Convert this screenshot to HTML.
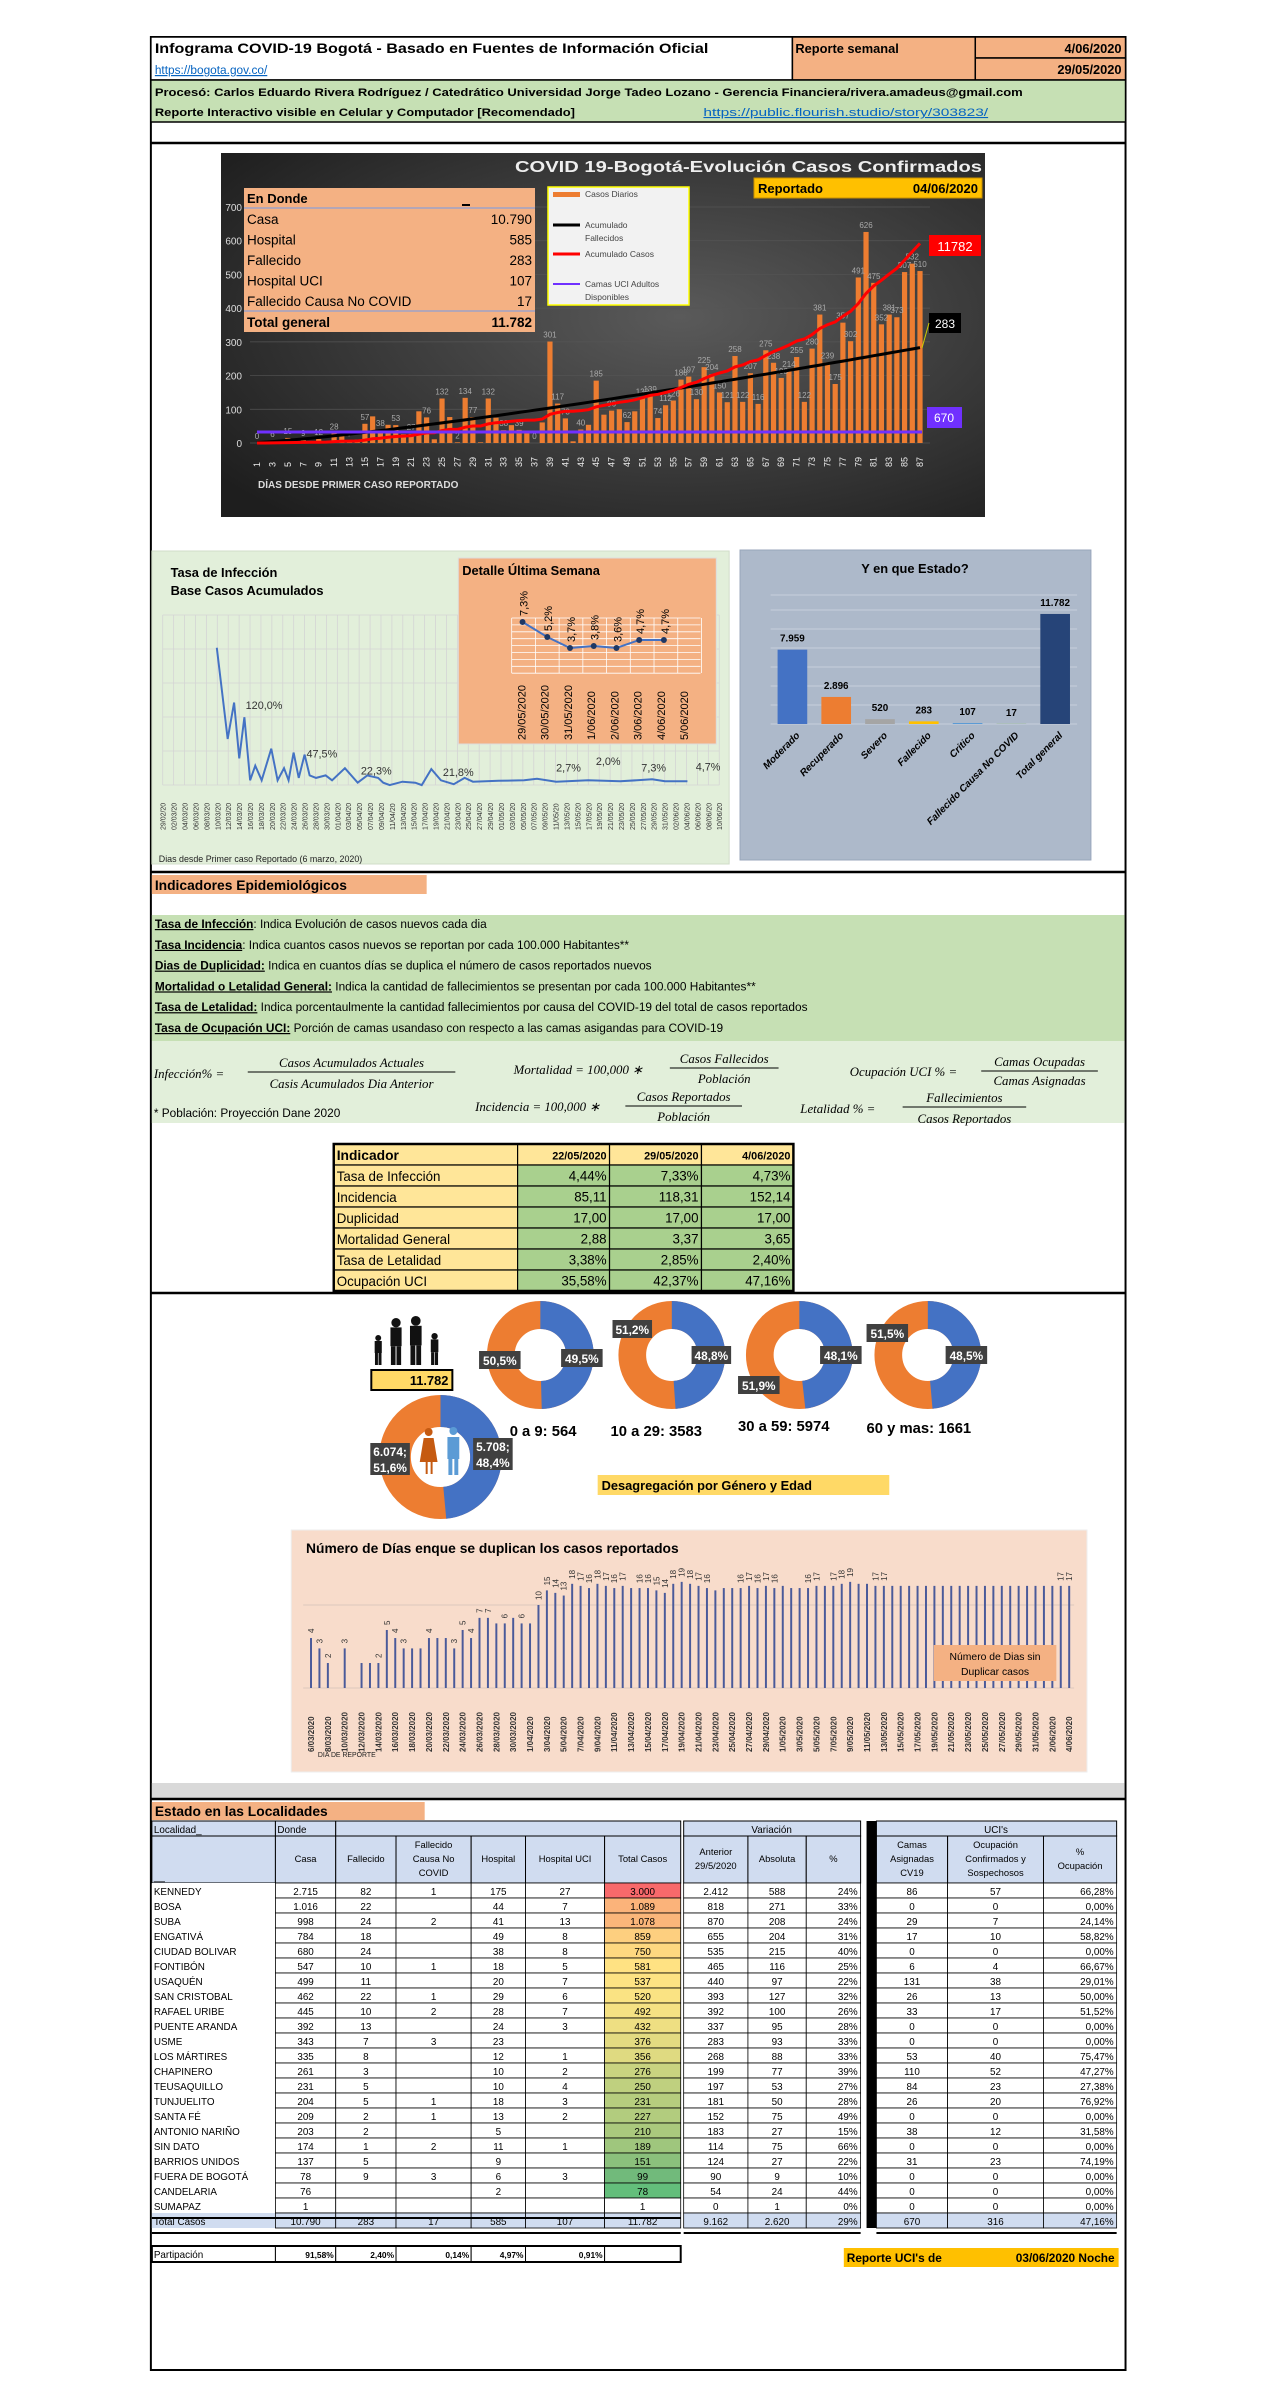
<!DOCTYPE html>
<html><head><meta charset="utf-8">
<style>
html,body{margin:0;padding:0;background:#fff;}
svg{display:block;}
</style></head>
<body>
<svg id="s" xmlns="http://www.w3.org/2000/svg" width="1275" height="2400" viewBox="0 0 1275 2400">
<defs>
<radialGradient id="dg" cx="0.6" cy="0.45" r="0.75">
<stop offset="0" stop-color="#5a5a5a"/><stop offset="1" stop-color="#1e1e1e"/>
</radialGradient>
</defs>
<g id="g" transform="translate(140,0) scale(0.9885,1) translate(-140,0)"></g>
</svg>
<script>
const S=document.getElementById('s');
const G=document.getElementById('g');
let P=G;
const NS='http://www.w3.org/2000/svg';
function el(tag,a,txt,parent){const e=document.createElementNS(NS,tag);for(const k in a){if(a[k]!==null&&a[k]!==undefined)e.setAttribute(k,a[k]);}if(txt!=null)e.textContent=txt;(parent||P).appendChild(e);return e;}
function R(x,y,w,h,f,s,sw){return el('rect',{x:x,y:y,width:w,height:h,fill:f||'none',stroke:s||'none','stroke-width':sw||1});}
function L(x1,y1,x2,y2,c,w){return el('line',{x1:x1,y1:y1,x2:x2,y2:y2,stroke:c||'#000','stroke-width':w||1});}
function T(x,y,t,sz,o){o=o||{};return el('text',{x:x,y:y,'font-size':sz,'font-family':o.f||'"Liberation Sans", Arial, sans-serif',fill:o.c||'#000','font-weight':o.b?'bold':null,'font-style':o.i?'italic':null,'text-anchor':o.a||'start','text-decoration':o.u?'underline':null,transform:o.r!==undefined?`rotate(${o.r} ${x} ${y})`:null,'textLength':o.tl||null,'lengthAdjust':o.tl?'spacingAndGlyphs':null},t);}

/* ---------- page frame & header ---------- */
R(151,37,986,2333,'#fff','#000',2);
R(151,37,649,43,'#fff','#000',1.5);
T(155,53,'Infograma COVID-19 Bogotá - Basado en Fuentes de Información Oficial',14,{b:1,tl:560});
T(155,74,'https://bogota.gov.co/',12,{c:'#0563c1',u:1});
R(800,37,185,43,'#f4b183','#000',1.5);
T(803,53,'Reporte semanal',13,{b:1});
R(985,37,152,21,'#f4b183','#000',1.5);
R(985,58,152,22,'#f4b183','#000',1.5);
T(1133,53,'4/06/2020',13,{b:1,a:'end'});
T(1133,74,'29/05/2020',13,{b:1,a:'end'});
R(151,80,986,42,'#c6e0b4','#000',1.5);
T(155,96,'Procesó: Carlos Eduardo Rivera Rodríguez / Catedrático Universidad Jorge Tadeo Lozano - Gerencia Financiera/rivera.amadeus@gmail.com',11,{b:1,tl:878});
T(155,116,'Reporte Interactivo visible en Celular y Computador [Recomendado]',11,{b:1,tl:425});
T(710,116,'https://public.flourish.studio/story/303823/',11,{c:'#0563c1',u:1,tl:288});
L(151,143,1137,143,'#000',2.5);

/* ---------- dark chart (unscaled) ---------- */
P=S;
R(221,153,764,364,'url(#dg)');
T(982,172,'COVID 19-Bogotá-Evolución Casos Confirmados',16,{b:1,c:'#eee',a:'end',tl:467});
R(754,178,228,20,'#ffc000','#c89000',1);
T(758,193,'Reportado',13,{b:1});
T(978,193,'04/06/2020',13,{b:1,a:'end'});
const y0=443,ys=236/700;
for(let v=0;v<=700;v+=100){const y=y0-v*ys;L(250,y,930,y,'#555',0.7);T(242,y+4,String(v),10,{c:'#ddd',a:'end'});}
const daily=[0,2,6,4,15,2,9,3,12,6,28,22,7,10,57,79,38,54,53,26,27,94,76,11,132,77,2,134,77,2,132,75,38,53,39,29,0,61,301,117,73,5,40,54,185,84,96,100,62,94,132,139,74,112,126,188,197,130,225,204,150,121,258,122,207,116,275,238,193,214,255,122,280,381,239,175,357,302,491,626,475,352,381,373,507,532,510];
const dx0=257,dsp=(920-257)/86;
daily.forEach((v,i)=>{const x=dx0+i*dsp;const h=v*ys;R(x-2.6,y0-h,5.2,h,'#ed7d31');});
daily.forEach((v,i)=>{if(i%2==0||v>100){const x=dx0+i*dsp;T(x,y0-v*ys-4,String(v),8,{c:'#aaa',a:'middle'});}});
for(let d=1;d<=87;d+=2){const x=dx0+(d-1)*dsp+3;T(x,467,String(d),9,{c:'#eee',r:-90});}
T(258,488,'DÍAS DESDE PRIMER CASO REPORTADO',10,{b:1,c:'#ddd'});
let cum=0,tot=daily.reduce((a,b)=>a+b,0);let pr='',pb='';
daily.forEach((v,i)=>{cum+=v;const x=dx0+i*dsp;pr+=(i?'L':'M')+x.toFixed(1)+' '+(y0-cum/tot*592*ys).toFixed(1);const dv=283*Math.pow((i+1)/daily.length,1.25);pb+=(i?'L':'M')+x.toFixed(1)+' '+(y0-dv*ys).toFixed(1);});
el('path',{d:pb,fill:'none',stroke:'#000','stroke-width':3});
el('path',{d:pr,fill:'none',stroke:'#f00','stroke-width':3});
L(257,432,922,432,'#7030ff',3);
R(929,235,52,21,'#f00');T(955,251,'11782',13,{c:'#fff',a:'middle'});
R(929,313,32,20,'#000');T(945,328,'283',12,{c:'#fff',a:'middle'});
L(922,348,929,323,'#cc0',1);
R(927,407,35,21,'#7030ff');T(944,422,'670',12,{c:'#fff',a:'middle'});
R(244,188,291,144,'#f4b183');
T(247,203,'En Donde',13,{b:1});L(462,205,470,205,'#000',2);
L(244,208,535,208,'#9fa3c8',1.5);L(244,311,535,311,'#9fa3c8',1.5);
[['Casa','10.790'],['Hospital','585'],['Fallecido','283'],['Hospital UCI','107'],['Fallecido Causa No COVID','17']].forEach((r,i)=>{const y=224+i*20.5;T(247,y,r[0],13.5);T(532,y,r[1],13.5,{a:'end'});});
T(247,327,'Total general',13.5,{b:1});T(532,327,'11.782',13.5,{b:1,a:'end'});
R(548,187,141,118,'#f2f2f2','#ffff00',1.5);
R(553,192,27,5,'#ed7d31');T(585,197,'Casos Diarios',8.5,{c:'#444'});
L(553,225,580,225,'#000',3);T(585,228,'Acumulado',8.5,{c:'#444'});T(585,241,'Fallecidos',8.5,{c:'#444'});
L(553,254,580,254,'#f00',3);T(585,257,'Acumulado Casos',8.5,{c:'#444'});
L(553,284,580,284,'#7030ff',2);T(585,287,'Camas UCI Adultos',8.5,{c:'#444'});T(585,300,'Disponibles',8.5,{c:'#444'});
P=G;

/* ---------- infection rate panel ---------- */
R(152,551,584,313,'#e2efda','#d0dcc8',1);
T(171,577,'Tasa de Infección',13,{b:1});
T(171,595,'Base Casos Acumulados',13,{b:1});
for(let i=0;i<52;i++){const x=163+i*(563/51);L(x,615,x,785,'#d4d4d4',0.8);
 const dd=new Date(2020,1,29+2*i);const s=('0'+dd.getDate()).slice(-2)+'/'+('0'+(dd.getMonth()+1)).slice(-2)+'/20';T(x+3,830,s,7,{c:'#333',r:-90});}
[615,649,683,717,751,785].forEach(y=>L(163,y,726,y,'#d4d4d4',0.8));
const lp=[[120,222],[137,410],[147,335],[155,450],[163,365],[172,495],[180,465],[190,495],[205,430],[215,495],[225,470],[232,495],[240,438],[248,490],[257,442],[265,485],[275,490],[290,485],[300,495],[320,470],[340,500],[355,485],[372,490],[380,500],[390,505],[410,498],[430,500],[440,505],[455,472],[470,495],[490,503],[507,490],[520,498],[560,496],[600,495],[620,492],[650,498],[700,495],[750,497],[800,493],[820,497],[855,497]];
el('path',{d:lp.map((p,i)=>(i?'L':'M')+(140+p[0]/1.544).toFixed(1)+' '+(540+p[1]/2.06).toFixed(1)).join(''),fill:'none',stroke:'#4472c4','stroke-width':2});
[['120,0%',165,338],['47,5%',260,438],['22,3%',345,473],['21,8%',473,476],['2,7%',650,467],['2,0%',712,453],['7,3%',783,467],['4,7%',868,465]].forEach(a=>T(140+a[1]/1.544,540+a[2]/2.06+5,a[0],11,{c:'#333'}));
T(159,862,'Dias desde Primer caso Reportado (6 marzo, 2020)',9,{c:'#222'});
R(462,558,261,186,'#f4b183','#ddd',1);
T(466,575,'Detalle Última Semana',13,{b:1});
for(let i=0;i<=8;i++){const x=516+i*24;L(x,618,x,673,'#fff',0.8);}
for(let j=0;j<=8;j++){const y=618+j*6.9;L(516,y,707,y,'#fff',0.8);}
const ip=[[527,622],[552,637],[575,648],[599,646],[622,648],[645,640],[670,640]];
el('path',{d:ip.map((p,i)=>(i?'L':'M')+p[0]+' '+p[1]).join(''),fill:'none',stroke:'#4472c4','stroke-width':2});
const iv=['7,3%','5,2%','3,7%','3,8%','3,6%','4,7%','4,7%'];
ip.forEach((p,i)=>{el('circle',{cx:p[0],cy:p[1],r:3,fill:'#1f3864'});T(p[0]+5,p[1]-6,iv[i],11,{c:'#000',r:-90});});
['29/05/2020','30/05/2020','31/05/2020','1/06/2020','2/06/2020','3/06/2020','4/06/2020','5/06/2020'].forEach((d,i)=>T(530+i*23.5,740,d,11,{r:-90,a:'start'}));

/* ---------- estado panel ---------- */
R(747,550,355,310,'#adb9ca','#98a6bb',1);
T(924,573,'Y en que Estado?',13,{b:1,a:'middle'});
for(let j=0;j<7;j++){const y=724-j*19;L(778,y,1088,y,'#c8d0dc',1);}
L(778,595,1088,595,'#c8d0dc',1);
const eb=[['Moderado',7959,'#4472c4'],['Recuperado',2896,'#ed7d31'],['Severo',520,'#a5a5a5'],['Fallecido',283,'#ffc000'],['Critico',107,'#5b9bd5'],['Fallecido Causa No COVID',17,'#70ad47'],['Total general',11782,'#264478']];
const vl=['7.959','2.896','520','283','107','17','11.782'];
eb.forEach((b,i)=>{const cx=800+i*44.3;const h=b[1]*0.00934;R(cx-15,724-h,30,h,b[2]);T(cx,724-h-8,vl[i],10,{b:1,a:'middle'});T(cx+8,736,b[0],10,{b:1,i:1,a:'end',r:-45});});

L(151,872,1137,872,'#000',2.5);

/* ---------- indicadores ---------- */
R(152,875,278,19,'#f4b183');
T(155,890,'Indicadores Epidemiológicos',14,{b:1});
R(152,915,984,126,'#c6e0b4');
R(152,1041,984,82,'#e2efda');
const defs=[['Tasa de Infección',': Indica Evolución de casos nuevos cada dia'],['Tasa Incidencia',': Indica cuantos casos nuevos se reportan por cada 100.000 Habitantes**'],['Dias de Duplicidad:',' Indica en cuantos días se duplica el número de casos reportados nuevos'],['Mortalidad o Letalidad General:',' Indica la cantidad de fallecimientos se presentan por cada 100.000 Habitantes**'],['Tasa de Letalidad:',' Indica porcentaulmente la cantidad fallecimientos por causa del COVID-19 del total de casos reportados'],['Tasa de Ocupación UCI:',' Porción de camas usandaso con respecto a las camas asigandas para COVID-19']];
defs.forEach((d,i)=>{const t=el('text',{x:155,y:928+i*20.8,'font-size':12,'font-family':'"Liberation Sans", Arial, sans-serif'});el('tspan',{'font-weight':'bold','text-decoration':'underline'},d[0],t);el('tspan',{},d[1],t);});
const FS='"Liberation Serif", serif';
function frac(cx,ny,dy,n,d,w){T(cx,ny,n,13,{i:1,f:FS,a:'middle'});L(cx-w/2,ny+5,cx+w/2,ny+5,'#000',1);T(cx,dy,d,13,{i:1,f:FS,a:'middle'});}
T(154,1078,'Infección% =',13,{i:1,f:FS});frac(354,1067,1088,'Casos Acumulados Actuales','Casis  Acumulados Dia Anterior',210);
T(518,1074,'Mortalidad = 100,000 ∗',13,{i:1,f:FS});frac(731,1063,1083,'Casos Fallecidos','Población',110);
T(858,1076,'Ocupación UCI % =',13,{i:1,f:FS});frac(1050,1066,1085,'Camas Ocupadas','Camas Asignadas',118);
T(154,1117,'* Población: Proyección Dane 2020',12,{});
T(479,1111,'Incidencia = 100,000 ∗',13,{i:1,f:FS});frac(690,1101,1121,'Casos Reportados','Población',118);
T(808,1113,'Letalidad % =',13,{i:1,f:FS});frac(974,1102,1123,'Fallecimientos','Casos Reportados',125);
const ic=[336,522,615,708,801];
const ir=[['Indicador','22/05/2020','29/05/2020','4/06/2020'],['Tasa de Infección','4,44%','7,33%','4,73%'],['Incidencia','85,11','118,31','152,14'],['Duplicidad','17,00','17,00','17,00'],['Mortalidad General','2,88','3,37','3,65'],['Tasa de Letalidad','3,38%','2,85%','2,40%'],['Ocupación UCI','35,58%','42,37%','47,16%']];
ir.forEach((r,j)=>{const y=1144+j*21;for(let c=0;c<4;c++){const f=(j==0||c==0)?'#ffe699':'#a9d08e';R(ic[c],y,ic[c+1]-ic[c],21,f,'#000',1.2);
 if(c==0)T(ic[0]+3,y+16,r[0],j==0?14:13.5,{b:j==0});else T(ic[c+1]-3,y+15.5,r[c],j==0?11:13.5,{b:j==0,a:'end'});}});
R(336,1144,465,147,'none','#000',2.5);

L(151,1293,1137,1293,'#000',2.5);

/* ---------- donuts ---------- */
function donut(cx,cy,ro,ri,fb){const r=(ro+ri)/2,w=ro-ri,c=2*Math.PI*r;el('circle',{cx:cx,cy:cy,r:r,fill:'none',stroke:'#ed7d31','stroke-width':w});el('circle',{cx:cx,cy:cy,r:r,fill:'none',stroke:'#4472c4','stroke-width':w,'stroke-dasharray':(c*fb).toFixed(1)+' '+c.toFixed(1),transform:`rotate(-90 ${cx} ${cy})`});}
function lab(x,y,w,h,lines){R(x,y,w,h,'#404040');lines.forEach((t,i)=>T(x+w/2,y+h/2+5-(lines.length-1)*8+i*16,t,12,{c:'#fff',a:'middle',b:1}));}
donut(545,1355,54,26,0.495);donut(678,1355,54,26,0.488);donut(807,1355,54,26,0.481);donut(937,1355,54,26,0.485);
lab(483,1351,42,18,['50,5%']);lab(566,1349,42,18,['49,5%']);
lab(618,1320,40,18,['51,2%']);lab(698,1346,40,18,['48,8%']);
lab(745,1376,42,18,['51,9%']);lab(828,1346,42,18,['48,1%']);
lab(875,1324,42,18,['51,5%']);lab(955,1346,42,18,['48,5%']);
T(514,1436,'0 a 9: 564',15,{b:1});T(616,1436,'10 a 29: 3583',15,{b:1});T(745,1431,'30 a 59: 5974',15,{b:1});T(875,1433,'60 y mas: 1661',15,{b:1});
donut(444,1457,62,30,0.484);
el('circle',{cx:432,cy:1432,r:4,fill:'#c55a11'});el('path',{d:'M427 1438 L437 1438 L441 1462 L423 1462 Z',fill:'#c55a11'});R(429,1462,2,12,'#c55a11');R(434,1462,2,12,'#c55a11');
el('circle',{cx:457,cy:1431,r:4,fill:'#5b9bd5'});R(451,1437,12,22,'#5b9bd5');R(452,1459,4,16,'#5b9bd5');R(458,1459,4,16,'#5b9bd5');
lab(373,1443,40,32,['6.074;','51,6%']);lab(477,1438,40,32,['5.708;','48,4%']);
function person(x,top,h){const s=h/50;el('circle',{cx:x,cy:top+5*s,r:5*s,fill:'#111'});R(x-6*s,top+10*s,12*s,20*s,'#111');R(x-5.5*s,top+30*s,5*s,20*s,'#111');R(x+0.5*s,top+30*s,5*s,20*s,'#111');}
person(381,1335,30);person(399,1318,47);person(419,1316,49);person(438,1333,32);
R(374,1370,82,20,'#ffd966','#000',2);T(452,1385,'11.782',13,{b:1,a:'end'});
R(603,1475,295,20,'#ffd966');T(607,1490,'Desagregación por Género y Edad',13,{b:1});

/* ---------- doubling chart ---------- */
R(293,1530,805,242,'#f8dccb','#eee',1);
T(308,1553,'Número de Días enque se duplican los casos reportados',14,{b:1});
const dup=[4,3,2,1,3,1,2,2,2,5,4,3,3,3,4,4,4,3,5,4,7,7,6,6,7,6,6,10,15,14,13,18,17,16,18,17,16,17,16,16,16,15,14,18,19,18,17,16,15,16,16,16,17,16,17,16,17,16,16,16,17,17,17,18,19,18,18,17,17,17,17,17,17,17,17,17,17,17,17,17,17,17,17,17,17,17,17,17,17,17,17];
const bx0=313,bsp=(1080-313)/(dup.length-1),by0=1688;
L(305,by0-83,1085,by0-83,'#dcc9bd',1);L(305,by0,1085,by0,'#dcc9bd',1);
const shown=new Set([0,1,2,4,8,9,10,11,14,17,18,19,20,21,23,25,27,28,29,30,31,32,33,34,35,36,37,39,40,41,42,43,44,45,46,47,51,52,53,54,55,59,60,62,63,64,67,68,89,90]);
dup.forEach((v,i)=>{const x=bx0+i*bsp;const h=83*Math.log10(v);R(x-1,by0-h,2,h,'#4a5a9a');if(shown.has(i))T(x+3,by0-h-5,String(v),8,{c:'#333',r:-90});});
for(let i=0;i<dup.length;i+=2){const x=bx0+i*bsp+3;const dd=new Date(2020,2,6+i);T(x,1752,dd.getDate()+'/'+('0'+(dd.getMonth()+1)).slice(-2)+'/2020',8,{b:1,c:'#333',r:-90});}
T(320,1757,'DIA DE REPORTE',7,{c:'#222'});
R(943,1645,124,36,'#f4b183');T(1005,1660,'Número de Dias sin',10.5,{a:'middle'});T(1005,1675,'Duplicar    casos',10.5,{a:'middle'});

R(152,1783,984,15,'#d9d9d9');L(151,1799,1137,1799,'#000',2.5);

/* ---------- localidades table ---------- */
R(152,1802,276,18,'#f4b183');T(155,1816,'Estado en las Localidades',14,{b:1});
const cx=[152,277,338,399,475,530,610,687];const vx=[690,755,814,869];const ux=[885,957,1054,1128];
const HB='#d0dcf0';
R(152,1821,125,15,HB,'#000',1);T(154,1833,'Localidad_',10);
R(277,1821,61,15,HB,'#000',1);T(279,1833,'Donde',10);
R(338,1821,349,15,HB,'#000',1);
R(690,1821,179,15,HB,'#000',1);T(779,1833,'Variación',10,{a:'middle'});
R(875,1821,10,62,'#000');
R(885,1821,243,15,HB,'#000',1);T(1006,1833,'UCI\'s',10,{a:'middle'});
const h2=[['Casa'],['Fallecido'],['Fallecido','Causa No','COVID'],['Hospital'],['Hospital UCI'],['Total Casos']];
R(152,1836,125,47,HB,'#000',1);T(154,1880,'__',10);
h2.forEach((h,i)=>{R(cx[i+1],1836,cx[i+2]-cx[i+1],47,HB,'#000',1);h.forEach((t,k)=>T((cx[i+1]+cx[i+2])/2,1862-(h.length-1)*7+k*14,t,9.5,{a:'middle'}));});
[['Anterior','29/5/2020'],['Absoluta'],['%']].forEach((h,i)=>{R(vx[i],1836,vx[i+1]-vx[i],47,HB,'#000',1);h.forEach((t,k)=>T((vx[i]+vx[i+1])/2,1862-(h.length-1)*7+k*14,t,9.5,{a:'middle'}));});
[['Camas','Asignadas','CV19'],['Ocupación','Confirmados y','Sospechosos'],['%','Ocupación']].forEach((h,i)=>{R(ux[i],1836,ux[i+1]-ux[i],47,HB,'#000',1);h.forEach((t,k)=>T((ux[i]+ux[i+1])/2,1862-(h.length-1)*7+k*14,t,9.5,{a:'middle'}));});
const rows=[
['KENNEDY','2.715','82','1','175','27','3.000','2.412','588','24%','86','57','66,28%','#f8696b'],
['BOSA','1.016','22','','44','7','1.089','818','271','33%','0','0','0,00%','#fbb37a'],
['SUBA','998','24','2','41','13','1.078','870','208','24%','29','7','24,14%','#fbb67a'],
['ENGATIVÁ','784','18','','49','8','859','655','204','31%','17','10','58,82%','#fdcf7f'],
['CIUDAD BOLIVAR','680','24','','38','8','750','535','215','40%','0','0','0,00%','#fed880'],
['FONTIBÓN','547','10','1','18','5','581','465','116','25%','6','4','66,67%','#ffe283'],
['USAQUÉN','499','11','','20','7','537','440','97','22%','131','38','29,01%','#fde383'],
['SAN CRISTOBAL','462','22','1','29','6','520','393','127','32%','26','13','50,00%','#fae383'],
['RAFAEL URIBE','445','10','2','28','7','492','392','100','26%','33','17','51,52%','#f5e183'],
['PUENTE ARANDA','392','13','','24','3','432','337','95','28%','0','0','0,00%','#eedf82'],
['USME','343','7','3','23','','376','283','93','33%','0','0','0,00%','#e3db81'],
['LOS MÁRTIRES','335','8','','12','1','356','268','88','33%','53','40','75,47%','#dfda81'],
['CHAPINERO','261','3','','10','2','276','199','77','39%','110','52','47,27%','#c9d380'],
['TEUSAQUILLO','231','5','','10','4','250','197','53','27%','84','23','27,38%','#bfd07f'],
['TUNJUELITO','204','5','1','18','3','231','181','50','28%','26','20','76,92%','#b6cd7e'],
['SANTA FÉ','209','2','1','13','2','227','152','75','49%','0','0','0,00%','#b2cc7e'],
['ANTONIO NARIÑO','203','2','','5','','210','183','27','15%','38','12','31,58%','#aac97d'],
['SIN DATO','174','1','2','11','1','189','114','75','66%','0','0','0,00%','#9fc67d'],
['BARRIOS UNIDOS','137','5','','9','','151','124','27','22%','31','23','74,19%','#8bc07c'],
['FUERA DE BOGOTÁ','78','9','3','6','3','99','90','9','10%','0','0','0,00%','#71ba7b'],
['CANDELARIA','76','','','2','','78','54','24','44%','0','0','0,00%','#63be7b'],
['SUMAPAZ','1','','','','','1','0','1','0%','0','0','0,00%','#ffffff'],
['Total Casos','10.790','283','17','585','107','11.782','9.162','2.620','29%','670','316','47,16%',HB]];
rows.forEach((r,j)=>{const y=1883+j*15,tot=j==rows.length-1,bg=tot?HB:'#fff';
 R(152,y,125,15,bg);T(154,y+12,r[0],10);
 for(let c=0;c<6;c++){R(cx[c+1],y,cx[c+2]-cx[c+1],15,c==5?r[13]:bg,'#000',0.8);T((cx[c+1]+cx[c+2])/2,y+12,r[c+1],10,{a:'middle'});}
 for(let c=0;c<3;c++){R(vx[c],y,vx[c+1]-vx[c],15,bg,'#000',0.8);T(c==2?vx[c+1]-3:(vx[c]+vx[c+1])/2,y+12,r[c+7],10,{a:c==2?'end':'middle'});}
 R(875,y,10,15,'#000');
 for(let c=0;c<3;c++){R(ux[c],y,ux[c+1]-ux[c],15,bg,'#000',0.8);T(c==2?ux[c+1]-3:(ux[c]+ux[c+1])/2,y+12,r[c+10],10,{a:c==2?'end':'middle'});}
});
L(152,2218,687,2218,'#000',2);L(152,2233,687,2233,'#000',2);L(690,2233,869,2233,'#000',2);L(885,2233,1128,2233,'#000',2);
const pv=['91,58%','2,40%','0,14%','4,97%','0,91%',''];
R(152,2246,125,16,'#fff','#000',1);T(154,2258,'Partipación',10);
pv.forEach((p,i)=>{R(cx[i+1],2246,cx[i+2]-cx[i+1],16,'#fff','#000',1);T(cx[i+2]-2,2258,p,8.5,{b:1,a:'end'});});
R(152,2246,535,16,'none','#000',2);
R(852,2248,278,19,'#ffc000');T(855,2262,'Reporte UCI\'s de',12,{b:1});T(1126,2262,'03/06/2020 Noche',12,{b:1,a:'end'});
</script>
</body></html>
